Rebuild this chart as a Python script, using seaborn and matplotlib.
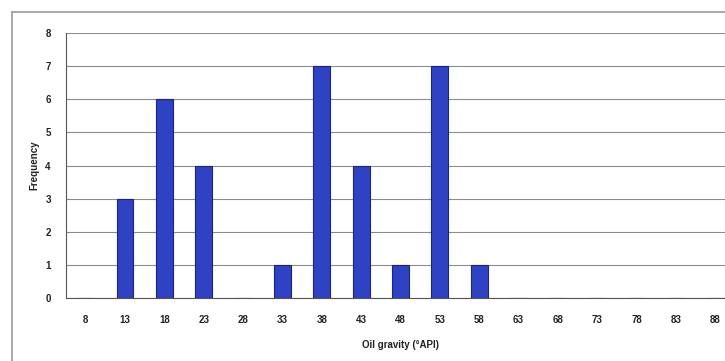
import matplotlib
matplotlib.use("Agg")
import matplotlib.pyplot as plt
import seaborn as sns
import pandas as pd
from matplotlib.patches import Rectangle

# oil gravity classes (API) and counts
gravity = ["8", "13", "18", "23", "28", "33", "38", "43", "48",
           "53", "58", "63", "68", "73", "78", "83", "88"]
frequency = [0, 3, 6, 4, 0, 1, 7, 4, 1, 7, 1, 0, 0, 0, 0, 0, 0]

df = pd.DataFrame({"Gravity": gravity, "Frequency": frequency})

sns.set_style("white")
plt.rcParams["font.family"] = ["Liberation Sans", "DejaVu Sans"]

fig = plt.figure(figsize=(7.25, 3.61), dpi=100)
# chart area border
fig.patches.append(Rectangle((12 / 725, -0.1), 1.2, 1 - 12 / 361 + 0.1,
                             transform=fig.transFigure, fill=False,
                             edgecolor="#9a9a9a", linewidth=1.2))

ax = fig.add_axes([66 / 725, 1 - 298 / 361, 669 / 725, 265 / 361])
sns.barplot(data=df, x="Gravity", y="Frequency", color="#3042c4",
            saturation=1, width=0.43, edgecolor="#1a237e", linewidth=0.8, ax=ax)

ax.set_ylim(0, 8)
ax.set_xlim(-0.5, len(gravity) - 0.5)
ax.set_yticks(range(0, 9))
ax.yaxis.grid(True, color="#8c8c8c", linewidth=0.8)
ax.set_axisbelow(True)
for s in ["top", "right"]:
    ax.spines[s].set_visible(False)
ax.spines["left"].set_color("#555555")
ax.spines["bottom"].set_color("#555555")

ax.set_xticks([i + 0.5 for i in range(-1, len(gravity))], minor=True)
ax.tick_params(axis="x", which="major", length=0, labelsize=7, pad=12)
ax.tick_params(axis="x", which="minor", length=3, color="#555555", direction="out")
ax.tick_params(axis="y", length=3, color="#555555", direction="out", labelsize=7, pad=8)
for lab in ax.get_xticklabels() + ax.get_yticklabels():
    lab.set_fontweight("bold")
    lab.set_color("#222222")

ax.set_xlabel("Oil gravity (°API)", fontsize=7, fontweight="bold", color="#222222",
              labelpad=11)
ax.set_ylabel("Frequency", fontsize=7, fontweight="bold", color="#222222", labelpad=4)

fig.savefig("out.png", dpi=100)
